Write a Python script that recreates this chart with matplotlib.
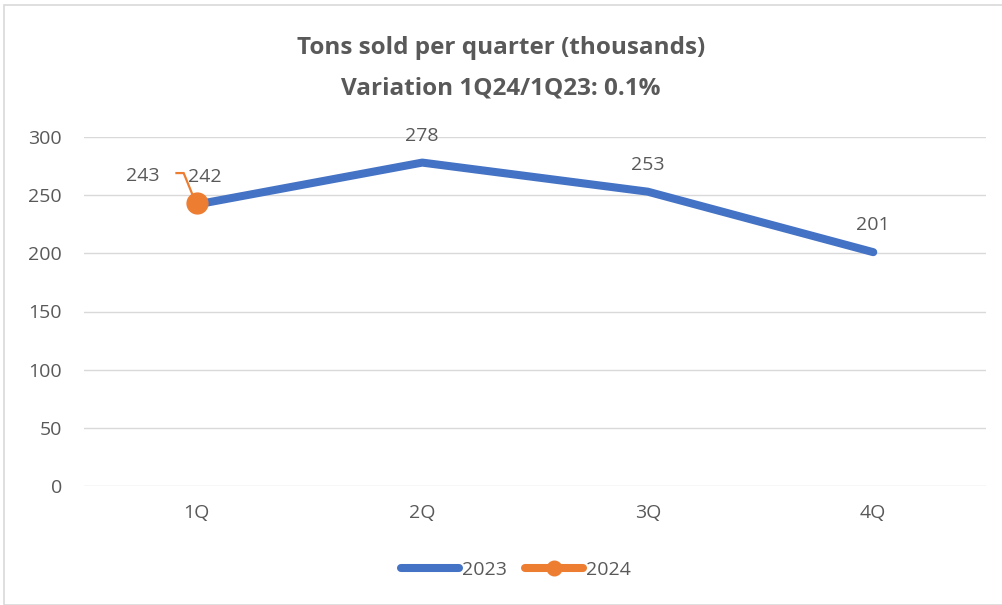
import matplotlib.pyplot as plt
from matplotlib.patches import Rectangle
import numpy as np

quarters = ["1Q", "2Q", "3Q", "4Q"]
tons_2023 = [242, 278, 253, 201]
tons_2024 = [243]

blue = "#4472C4"
orange = "#ED7D31"
gray = "#595959"

plt.rcParams['font.family'] = ['Open Sans', 'DejaVu Sans']

fig = plt.figure(figsize=(10.02, 6.05), dpi=100)
ax = fig.add_axes([84 / 1002, 1 - 486 / 605, 902 / 1002, 349 / 605])

x = np.arange(len(quarters))
ax.plot(x, tons_2023, color=blue, lw=5.8, solid_capstyle='round', label="2023", zorder=3)
ax.plot(x[:len(tons_2024)], tons_2024, color=orange, lw=5.8, marker='o', ms=15,
        solid_capstyle='round', label="2024", zorder=4)

# data labels
for xi, v in zip(x, tons_2023):
    dx = 6 if xi == 0 else 0
    ax.annotate(str(v), (xi, v), xytext=(dx, 13), textcoords='offset points',
                ha='center', va='bottom', fontsize=14, color=gray)
ax.annotate(str(tons_2024[0]), (0, tons_2024[0]), xytext=(-39, 13),
            textcoords='offset points', ha='center', va='bottom', fontsize=14, color=gray)
# leader line for the 2024 label
ax.plot([-0.09, -0.058, -0.018], [269, 269, 250], color=orange, lw=1.6,
        solid_joinstyle='miter', zorder=2)

ax.set_xlim(-0.5, 3.5)
ax.set_ylim(0, 300)
ax.set_yticks(np.arange(0, 301, 50))
ax.set_xticks(x, quarters)
ax.grid(axis='y', color='#D9D9D9', lw=1)
ax.set_axisbelow(True)
for s in ax.spines.values():
    s.set_visible(False)
ax.tick_params(length=0, labelsize=14, labelcolor=gray)
ax.tick_params(axis='x', pad=13)
ax.tick_params(axis='y', pad=16)

fig.text(0.5, 1 - 48 / 605, "Tons sold per quarter (thousands)", ha='center', va='center',
         fontsize=17.5, fontweight='bold', color=gray)
fig.text(0.5, 1 - 88 / 605, "Variation 1Q24/1Q23: 0.1%", ha='center', va='center',
         fontsize=17.5, fontweight='bold', color=gray)

fig.legend(loc='center', bbox_to_anchor=(0.515, 1 - 570 / 605), ncols=2, frameon=False,
           fontsize=14, labelcolor=gray, handlelength=3.0, handletextpad=0.15,
           columnspacing=0.9, markerscale=0.7)

fig.patches.append(Rectangle((4 / 1002, 0), 1.0, 1 - 5 / 605, transform=fig.transFigure,
                             fill=False, edgecolor='#D9D9D9', lw=1.2))

fig.savefig("out.png", dpi=100)
